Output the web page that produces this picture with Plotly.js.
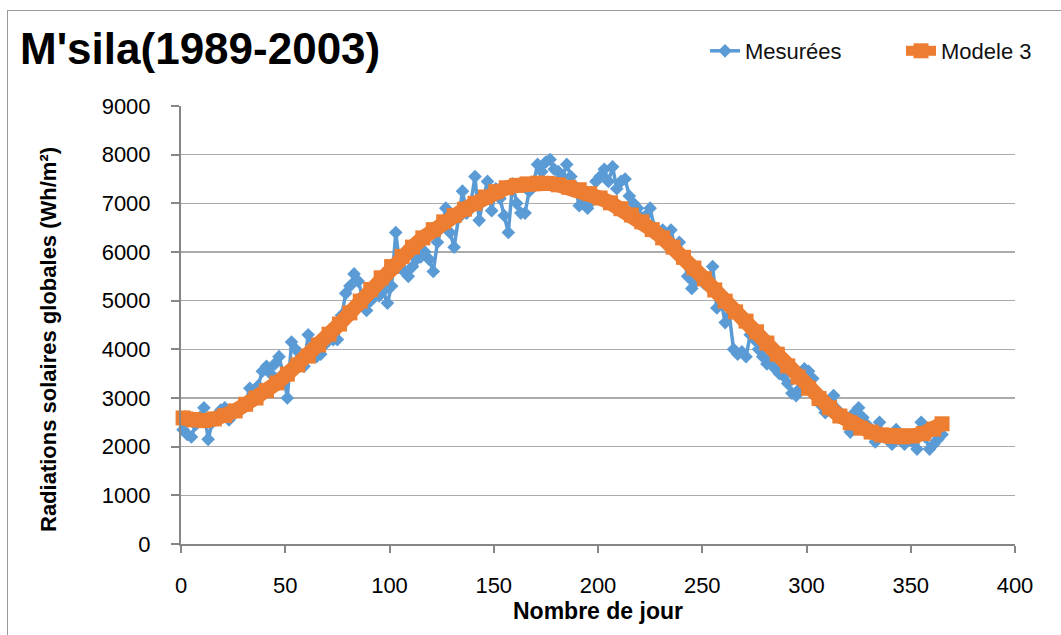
<!DOCTYPE html>
<html>
<head>
<meta charset="utf-8">
<script src="https://cdn.plot.ly/plotly-3.0.1.min.js"></script>
<style>
  html, body { margin: 0; padding: 0; background: #fff; overflow: hidden; }
  #frame { position: absolute; left: 7px; top: 10px; width: 1100px; height: 700px; border: 1px solid #9a9a9a; }
  #chart { position: absolute; left: 0; top: 0; width: 1061px; height: 635px; }
</style>
</head>
<body>
<div id="frame"></div>
<div id="chart"></div>
<script>
// Mesurées: one reading every second day, days 1..365
const measured = [
  2350, 2250, 2200, 2450, 2600, 2800, 2150, 2500, 2600, 2750, 2800, 2550, 2650, 2750, 2800,
  2900, 3200, 3100, 3250, 3550, 3650, 3500, 3700, 3850, 3500, 3000, 4150, 4000, 3700, 3650,
  4300, 4050, 3850, 3900, 4100, 4250, 4200, 4200, 4700, 5150, 5300, 5550, 5400, 5100, 4800,
  5000, 5300, 5100, 5200, 4950, 5300, 6400, 5700, 5600, 5500, 5700, 5850, 5900, 6000, 5850,
  5600, 6200, 6500, 6900, 6400, 6100, 6700, 7250, 6800, 7000, 7550, 6650, 7100, 7450, 6850,
  7300, 7100, 6750, 6400, 7400, 7000, 6800, 6800, 7250, 7400, 7800, 7650, 7850, 7900, 7700,
  7650, 7550, 7800, 7550, 7350, 6950, 7100, 6900, 7050, 7450, 7550, 7700, 7450, 7750, 7300,
  7450, 7500, 7150, 7000, 6900, 6700, 6750, 6900, 6500, 6400, 6450, 6300, 6450, 6100, 6200,
  5900, 5500, 5250, 5400, 5500, 5350, 5450, 5700, 4850, 5000, 4550, 4700, 4000, 3900, 3950,
  3850, 4300, 4200, 4000, 3850, 3700, 3800, 3600, 3500, 3450, 3300, 3100, 3050, 3200, 3600,
  3550, 3400, 3100, 2850, 2700, 2900, 3050, 2750, 2600, 2500, 2300, 2700, 2800, 2600, 2450,
  2300, 2100, 2500, 2200, 2250, 2050, 2350, 2200, 2050, 2200, 2100, 1950, 2500, 2200, 1950,
  2050, 2150, 2250
];
const measuredDays = measured.map((_, i) => 1 + 2 * i);

// Modele 3
const modelDays = [
  1, 6, 11, 16, 21, 26, 31, 36, 41, 46, 51, 56, 61, 66, 71, 76, 81, 86, 91, 96,
  101, 106, 111, 116, 121, 126, 131, 136, 141, 146, 151, 156, 161, 166, 171, 176, 181, 186, 191, 196,
  201, 206, 211, 216, 221, 226, 231, 236, 241, 246, 251, 256, 261, 266, 271, 276, 281, 286, 291, 296,
  301, 306, 311, 316, 321, 326, 331, 336, 341, 346, 351, 356, 361, 365
];
const model = [
  2590, 2550, 2535, 2570, 2640, 2735, 2870, 3000, 3150, 3310, 3490, 3680, 3860, 4090, 4310, 4520, 4750, 4990, 5230, 5470,
  5700, 5910, 6100, 6290, 6460, 6620, 6750, 6880, 7000, 7130, 7240, 7320, 7370, 7400, 7415, 7410, 7380, 7330, 7280, 7200,
  7110, 7010, 6890, 6760, 6620, 6460, 6290, 6100, 5890, 5670, 5450, 5220, 4990, 4770, 4580, 4360, 4130, 3900, 3660, 3430,
  3200, 2990, 2800, 2630, 2490, 2380, 2300, 2240, 2210, 2200, 2220, 2270, 2360, 2470
];

const FONT = '"Liberation Sans", Arial, sans-serif';
const BLUE = '#5b9bd5';
const ORANGE = '#ed7d31';

const traces = [
  {
    x: measuredDays, y: measured, name: 'Mesurées', legend: 'legend',
    type: 'scatter', mode: 'lines+markers', cliponaxis: false,
    line: { color: BLUE, width: 3.5 },
    marker: { symbol: 'diamond', size: 10.5, color: BLUE }
  },
  {
    x: modelDays, y: model, name: 'Modele 3', legend: 'legend2',
    type: 'scatter', mode: 'lines+markers', cliponaxis: false,
    line: { color: ORANGE, width: 15 },
    marker: { symbol: 'square', size: 15, color: ORANGE }
  }
];

const legendBase = {
  orientation: 'h', xanchor: 'left', y: (544 - 51) / 438, yanchor: 'middle',
  font: { family: FONT, size: 22, color: '#111' },
  bgcolor: 'rgba(0,0,0,0)', itemclick: false
};

const layout = {
  width: 1061, height: 635,
  margin: { l: 181, r: 46, t: 106, b: 91 },
  paper_bgcolor: 'rgba(0,0,0,0)', plot_bgcolor: 'rgba(0,0,0,0)',
  font: { family: FONT, size: 22, color: '#000' },
  title: {
    text: "<b>M'sila(1989-2003)</b>",
    font: { family: FONT, size: 44, color: '#000' },
    xref: 'container', x: 20 / 1061, xanchor: 'left',
    yref: 'container', y: 1 - 49 / 635, yanchor: 'middle'
  },
  xaxis: {
    range: [0, 400], dtick: 50, tick0: 0,
    showline: true, linecolor: '#868686', linewidth: 2,
    ticks: 'outside', ticklen: 7, tickcolor: '#868686', tickwidth: 2,
    ticklabelstandoff: 14,
    showgrid: false, zeroline: false,
    tickfont: { family: FONT, size: 22, color: '#000' }
  },
  yaxis: {
    range: [0, 9000], dtick: 1000, tick0: 0,
    showline: true, linecolor: '#868686', linewidth: 2,
    ticks: 'outside', ticklen: 8, tickcolor: '#868686', tickwidth: 2,
    ticklabelstandoff: 16,
    showgrid: true, gridcolor: '#ababab', gridwidth: 1.5, zeroline: false,
    tickfont: { family: FONT, size: 22, color: '#000' }
  },
  showlegend: true,
  legend: Object.assign({}, legendBase, { x: (705 - 181) / 834 }),
  legend2: Object.assign({}, legendBase, { x: (901 - 181) / 834 }),
  annotations: [
    {
      text: '<b>Nombre de jour</b>', showarrow: false,
      xref: 'paper', yref: 'paper', x: 0.5, y: (544 - 611) / 438,
      xanchor: 'center', yanchor: 'middle',
      font: { family: FONT, size: 23, color: '#000' }
    },
    {
      text: '<b>Radiations solaires globales (Wh/m²)</b>', showarrow: false, textangle: -90,
      xref: 'paper', yref: 'paper', x: (48 - 181) / 834, y: (544 - 340) / 438,
      xanchor: 'center', yanchor: 'middle',
      font: { family: FONT, size: 22, color: '#000' }
    }
  ]
};

Plotly.newPlot('chart', traces, layout, { displayModeBar: false, staticPlot: true });
</script>
</body>
</html>
